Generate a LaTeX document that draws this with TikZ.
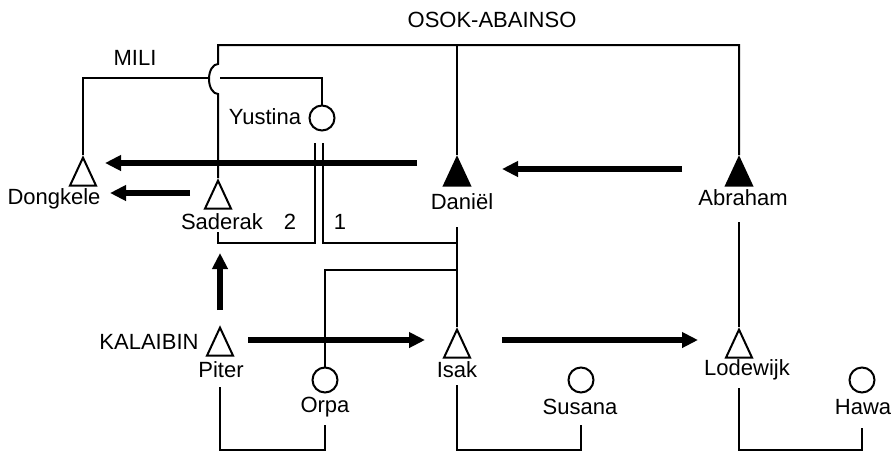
\documentclass[tikz,border=0pt]{standalone}
\usepackage{fontspec}
\setmainfont{Liberation Sans}
\usetikzlibrary{arrows.meta,shapes.geometric}
\tikzset{
  kin/.style={line width=1pt},
  move/.style={line width=2.8pt,-{Triangle[length=8pt,width=7.5pt]}},
  male/.style={draw,line width=1pt,isosceles triangle,shape border rotate=90,
    isosceles triangle stretches,minimum width=13pt,minimum height=14pt,
    inner sep=0pt,anchor=apex},
  elder/.style={male,fill=black},
  female/.style={draw,line width=1pt,circle,minimum size=12.5pt,inner sep=0pt},
  lbl/.style={font=\fontsize{11}{13}\selectfont,inner sep=1pt}
}

\begin{document}
\begin{tikzpicture}[x=0.5pt,y=-0.5pt]
  \useasboundingbox (0,0) rectangle (893,456);
  % clan names
  \node[lbl] (osok) at (492,20) {OSOK-ABAINSO};
  \node[lbl] (mili) at (135,58) {MILI};
  \node[lbl] (kalaibin) at (149,342) {KALAIBIN};
  % people
  \node[male] (dongkele) at (83,155) {};
  \node[male] (saderak) at (218,178) {};
  \node[elder] (daniel) at (457,155) {};
  \node[elder] (abraham) at (739,155) {};
  \node[female] (yustina) at (322,118) {};
  \node[male] (piter) at (220,325) {};
  \node[male] (isak) at (457,327) {};
  \node[male] (lodewijk) at (739,327) {};
  \node[female] (orpa) at (325,380) {};
  \node[female] (susana) at (581,380) {};
  \node[female] (hawa) at (862,380) {};
  % names
  \node[lbl] (dongkele-l) at (54,199) {Dongkele};
  \node[lbl] (saderak-l) at (222,222) {Saderak};
  \node[lbl] (two) at (290,222) {2};
  \node[lbl] (one) at (340,222) {1};
  \node[lbl] (daniel-l) at (462,202) {Daniël};
  \node[lbl] (abraham-l) at (743,198) {Abraham};
  \node[lbl] (yustina-l) at (265,117) {Yustina};
  \node[lbl] (piter-l) at (221,370) {Piter};
  \node[lbl] (orpa-l) at (325,407) {Orpa};
  \node[lbl] (isak-l) at (457,370) {Isak};
  \node[lbl] (susana-l) at (580,407) {Susana};
  \node[lbl] (lodewijk-l) at (747,370) {Lodewijk};
  \node[lbl] (hawa-l) at (863,407) {Hawa};
  % descent lines
  \coordinate (osokline) at (218,45);
  \coordinate (mililine) at (209.5,78);
  \draw[kin] (abraham.apex) |- (osokline) -- ++(0,19)
    arc[start angle=90,end angle=270,x radius=4.5pt,y radius=7.5pt] -- (saderak.apex);
  \draw[kin] (daniel.apex) -- (daniel.apex |- osokline);
  \draw[kin] (dongkele.apex) |- (mililine);
  \draw[kin] (yustina.north) |- ([xshift=5pt]mililine);
  \draw[kin] ([yshift=-33.5pt]abraham.apex) -- (lodewijk.apex);
  \draw[kin] ([yshift=-36pt]daniel.apex) -- (isak.apex);
  \draw[kin] (orpa.north) |- ([yshift=-57.5pt]daniel.apex);
  % marriages
  \draw[kin] ([xshift=-3.5pt,yshift=-5.75pt]yustina.south) -- ++(0,100)
    -| ([yshift=-27pt]saderak.apex);
  \draw[kin] ([xshift=0.5pt,yshift=-5.75pt]yustina.south) -- ++(0,100)
    -| ([yshift=-36pt]daniel.apex);
  \draw[kin] ([yshift=-31pt]piter.apex) |- ([yshift=-35pt]orpa.center)
    -- ([yshift=-22.5pt]orpa.center);
  \draw[kin] ([yshift=-29pt]isak.apex) |- ([yshift=-35pt]susana.center)
    -- ([yshift=-22.5pt]susana.center);
  \draw[kin] ([yshift=-30.5pt]lodewijk.apex) |- ([yshift=-35pt]hawa.center)
    -- ([yshift=-24pt]hawa.center);
  % transfers
  \draw[move] ([xshift=-20pt,yshift=-4pt]daniel.apex) -- ([xshift=11pt,yshift=-4pt]dongkele.apex);
  \draw[move] ([xshift=-14pt,yshift=-7.5pt]saderak.apex) -- ([xshift=13.5pt,yshift=-19pt]dongkele.apex);
  \draw[move] ([xshift=-28.5pt,yshift=-7pt]abraham.apex) -- ([xshift=22.5pt,yshift=-7pt]daniel.apex);
  \draw[move] ([yshift=7.5pt]piter.apex) -- ([xshift=1pt,yshift=-37.5pt]saderak.apex);
  \draw[move] ([xshift=14pt,yshift=-7.5pt]piter.apex) -- ([xshift=-16pt,yshift=-6.5pt]isak.apex);
  \draw[move] ([xshift=22.5pt,yshift=-6.5pt]isak.apex) -- ([xshift=-20.5pt,yshift=-6.5pt]lodewijk.apex);
\end{tikzpicture}
\end{document}
